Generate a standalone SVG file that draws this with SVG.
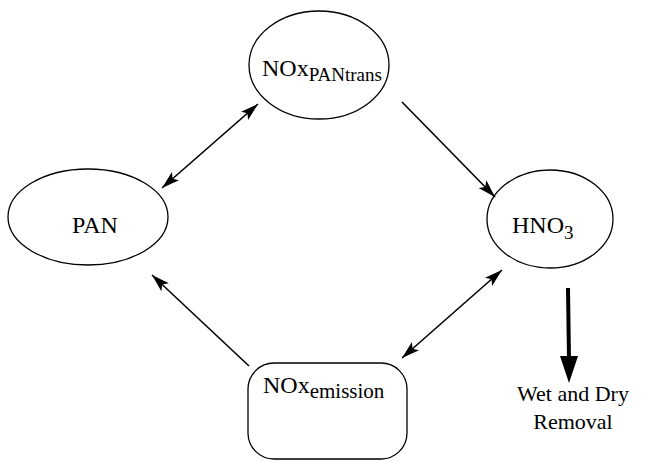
<svg xmlns="http://www.w3.org/2000/svg" width="645" height="462" viewBox="0 0 645 462">
<style>
.node{fill:none;stroke:#000;stroke-width:1.3}
.lbl{font-family:"Liberation Serif","Times New Roman",serif;font-size:24px;fill:#000}
.sub{font-size:19px}
.conn{stroke:#000;stroke-width:1.6;fill:none}
.thick{stroke:#000;stroke-width:4;fill:none}
</style>
<defs>
<marker id="ah" viewBox="0 0 18 11" refX="18" refY="5.5" markerWidth="18" markerHeight="11" markerUnits="userSpaceOnUse" orient="auto-start-reverse">
<path d="M0,0 L18,5.5 L0,11 L4,5.5 Z" fill="#000"/>
</marker>
</defs>
<rect width="645" height="462" fill="#fff"/>
<g id="nox-pantrans">
<ellipse class="node" cx="319" cy="65" rx="70" ry="54"/>
<text class="lbl" font-family="Liberation Serif, serif" x="262" y="76">NOx<tspan class="sub" dy="5">PANtrans</tspan></text>
</g>
<g id="pan">
<ellipse class="node" cx="88" cy="217" rx="80" ry="48"/>
<text class="lbl" font-family="Liberation Serif, serif" x="95" y="233" text-anchor="middle">PAN</text>
</g>
<g id="hno3">
<ellipse class="node" cx="550" cy="219" rx="63" ry="49"/>
<text class="lbl" font-family="Liberation Serif, serif" x="512" y="233">HNO<tspan class="sub" dy="6">3</tspan></text>
</g>
<g id="nox-emission">
<rect class="node" x="248" y="363" width="159" height="96" rx="26" ry="26"/>
<text class="lbl" font-family="Liberation Serif, serif" x="263" y="393">NOx<tspan class="sub" style="font-size:21px" dy="5">emission</tspan></text>
</g>
<g id="removal">
<text class="lbl" font-family="Liberation Serif, serif" style="font-size:22px" x="573" y="401" text-anchor="middle">Wet and Dry</text>
<text class="lbl" font-family="Liberation Serif, serif" style="font-size:22px" x="573" y="429" text-anchor="middle">Removal</text>
</g>
<g id="connectors">
<line class="conn" x1="162" y1="188" x2="258" y2="104" marker-start="url(#ah)" marker-end="url(#ah)"/>
<line class="conn" x1="402" y1="102" x2="495" y2="197" marker-end="url(#ah)"/>
<line class="conn" x1="249" y1="366" x2="152" y2="275" marker-end="url(#ah)"/>
<line class="conn" x1="402" y1="358" x2="502" y2="270" marker-start="url(#ah)" marker-end="url(#ah)"/>
<line class="thick" x1="568" y1="288" x2="569" y2="360"/>
<path d="M560,356 L578,356 L569,383 Z" fill="#000"/>
</g>
</svg>
